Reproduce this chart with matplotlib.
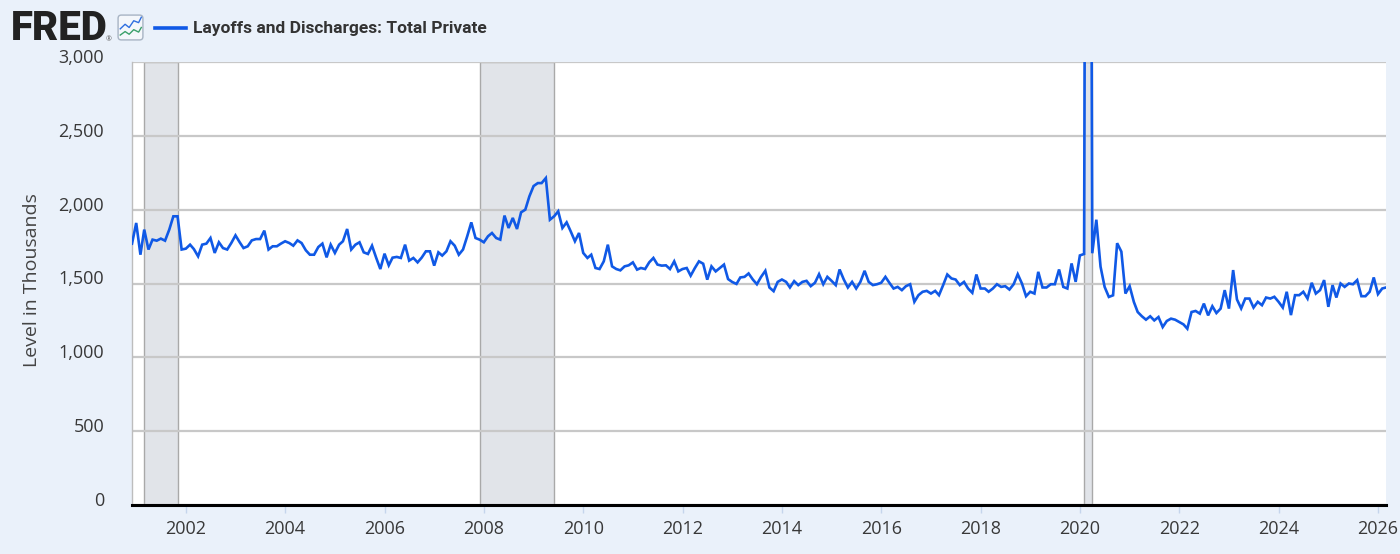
import numpy as np
import pandas as pd
import matplotlib
matplotlib.use("Agg")
from matplotlib import pyplot as plt
import matplotlib.dates as mdates
from matplotlib.ticker import FuncFormatter
from matplotlib.transforms import ScaledTranslation
from matplotlib.patches import FancyBboxPatch
from matplotlib.lines import Line2D

plt.rcParams["font.family"] = ["Open Sans", "DejaVu Sans"]

# monthly layoffs and discharges, total private (thousands), Dec 2000 - Mar 2026
layoffs_2000_2004 = [1770,
    1910, 1695, 1865, 1730, 1797, 1790, 1804, 1790, 1865, 1955, 1955, 1730,
    1736, 1763, 1733, 1684, 1763, 1770, 1808, 1707, 1779, 1740, 1730, 1774,
    1826, 1779, 1740, 1752, 1792, 1801, 1801, 1858, 1730, 1752, 1752, 1770,
    1786, 1774, 1756, 1792, 1774, 1725, 1695, 1695, 1747, 1770, 1677, 1763]
layoffs_2005_2009 = [
    1707, 1763, 1786, 1869, 1730, 1763, 1779, 1711, 1700, 1756, 1673, 1598,
    1702, 1623, 1675, 1680, 1673, 1763, 1655, 1673, 1643, 1675, 1718, 1718,
    1621, 1711, 1689, 1718, 1786, 1756, 1695, 1730, 1820, 1914, 1808, 1797,
    1779, 1820, 1842, 1808, 1797, 1960, 1876, 1944, 1869, 1982, 2000, 2090,
    2160, 2180, 2180, 2214, 1932, 1955, 1989, 1876, 1914, 1853, 1786, 1842]
layoffs_2010_2014 = [
    1707, 1673, 1695, 1605, 1598, 1650, 1763, 1616, 1598, 1589, 1616, 1623,
    1643, 1594, 1605, 1598, 1643, 1673, 1628, 1621, 1623, 1598, 1650, 1582,
    1598, 1605, 1553, 1605, 1650, 1634, 1526, 1616, 1582, 1605, 1628, 1530,
    1510, 1497, 1541, 1545, 1568, 1527, 1495, 1545, 1586, 1473, 1448, 1511,
    1527, 1511, 1473, 1516, 1489, 1511, 1518, 1482, 1505, 1563, 1495, 1545]
layoffs_2015_2019 = [
    1518, 1489, 1595, 1527, 1473, 1511, 1466, 1511, 1586, 1511, 1489, 1495,
    1505, 1545, 1505, 1466, 1477, 1455, 1482, 1495, 1376, 1421, 1444, 1450,
    1432, 1450, 1421, 1490, 1561, 1534, 1527, 1489, 1511, 1466, 1437, 1561,
    1466, 1466, 1444, 1466, 1495, 1477, 1482, 1459, 1495, 1563, 1500, 1414,
    1444, 1432, 1579, 1473, 1473, 1495, 1495, 1595, 1477, 1466, 1636, 1511]
layoffs_2020_2026 = [
    1690, 1700, 11500, 1705, 1932, 1614, 1477, 1409, 1420, 1773, 1716, 1432,
    1482, 1375, 1307, 1278, 1255, 1278, 1250, 1273, 1205, 1246, 1262, 1255,
    1239, 1223, 1194, 1307, 1314, 1296, 1364, 1284, 1346, 1300, 1330, 1455,
    1330, 1591, 1392, 1331, 1398, 1398, 1337, 1376, 1353, 1405, 1398, 1410,
    1376, 1337, 1444, 1286, 1421, 1421, 1444, 1398, 1505, 1432, 1455, 1523,
    1342, 1489, 1405, 1500, 1477, 1500, 1495, 1523, 1414, 1414, 1444, 1541,
    1428, 1466, 1473]

layoffs = (layoffs_2000_2004 + layoffs_2005_2009 + layoffs_2010_2014
           + layoffs_2015_2019 + layoffs_2020_2026)
dates = pd.date_range("2000-12-01", periods=len(layoffs), freq="MS")

recession_starts = ["2001-03-01", "2007-12-01", "2020-02-01"]
recession_ends = ["2001-11-01", "2009-06-01", "2020-04-01"]

series_name = "Layoffs and Discharges: Total Private"
y_label = "Level in Thousands"

# icon decoration (small chart glyph next to the logo)
icon_x = [0.12, 0.3, 0.45, 0.62, 0.8, 0.9]
icon_blue = [0.45, 0.62, 0.5, 0.75, 0.68, 0.88]
icon_green = [0.22, 0.35, 0.25, 0.42, 0.33, 0.5]

fig = plt.figure(figsize=(14, 5.54), dpi=100)
fig.patch.set_facecolor("#eaf1fa")

ax = fig.add_axes([132 / 1400, 1 - 505 / 554, (1386 - 132) / 1400, (505 - 62) / 554])
ax.set_facecolor("white")

for s, e in zip(recession_starts, recession_ends):
    ax.axvspan(pd.Timestamp(s), pd.Timestamp(e), facecolor="#e1e4e9",
               edgecolor="#a9a9a9", linewidth=1.0, zorder=1)

ax.plot(dates, layoffs, color="#1059e6", linewidth=1.9, zorder=3,
        solid_joinstyle="miter")

ax.set_xlim(dates[0], dates[-1])
ax.set_ylim(0, 3000)
ax.set_yticks(np.arange(0, 3001, 500))
ax.yaxis.set_major_formatter(FuncFormatter(lambda v, p: f"{int(v):,}"))
ax.xaxis.set_major_locator(mdates.YearLocator(2))
ax.xaxis.set_major_formatter(mdates.DateFormatter("%Y"))

ax.set_axisbelow("line")
ax.yaxis.grid(True, color="#c8c8c8", linewidth=1.6)
ax.xaxis.grid(False)

for side in ["top", "right"]:
    ax.spines[side].set_visible(False)
ax.spines["left"].set_color("#bdbdbd")
ax.spines["left"].set_linewidth(1.0)
ax.spines["bottom"].set_color("black")
ax.spines["bottom"].set_linewidth(2.2)
ax.spines["bottom"].set_zorder(4)

ax.tick_params(axis="y", length=0, pad=20, labelsize=13, labelcolor="#383838")
ax.tick_params(axis="x", length=6, width=1, color="#c5d5ec", pad=5,
               labelsize=13, labelcolor="#383838")

offset = ScaledTranslation(0, 6 / 100, fig.dpi_scale_trans)
for lbl in ax.get_yticklabels():
    lbl.set_transform(lbl.get_transform() + offset)

fig.text(32 / 1400, 1 - 280 / 554, y_label, rotation=90, ha="center",
         va="center", fontsize=14, color="#444444")

# header: logo, icon and legend
fig.text(11 / 1400, 1 - 40 / 554, "FRED", fontsize=29, fontweight="black",
         family=["Roboto", "DejaVu Sans"], color="#222222", va="baseline")
fig.text(106 / 1400, 1 - 41 / 554, "®", fontsize=5, color="#555555", va="baseline")

icon = fig.add_axes([117 / 1400, 1 - 41 / 554, 27 / 1400, 27 / 554])
icon.set_xlim(0, 1)
icon.set_ylim(0, 1)
icon.axis("off")
icon.add_patch(FancyBboxPatch((0.04, 0.04), 0.92, 0.92,
                              boxstyle="round,pad=0,rounding_size=0.12",
                              facecolor="#f4f7fb", edgecolor="#a8b4c4", linewidth=1))
icon.plot(icon_x, icon_blue, color="#2f6fe0", linewidth=1.0)
icon.plot(icon_x, icon_green, color="#3aa06a", linewidth=1.0)

fig.add_artist(Line2D([155 / 1400, 186 / 1400], [1 - 28 / 554, 1 - 28 / 554],
                      color="#1059e6", linewidth=2.6, transform=fig.transFigure))
fig.text(193 / 1400, 1 - 28 / 554, series_name, fontsize=12.5, fontweight="bold",
         family=["Roboto", "DejaVu Sans"], color="#333333", va="center")

plt.savefig("out.png", dpi=100, facecolor=fig.get_facecolor())
